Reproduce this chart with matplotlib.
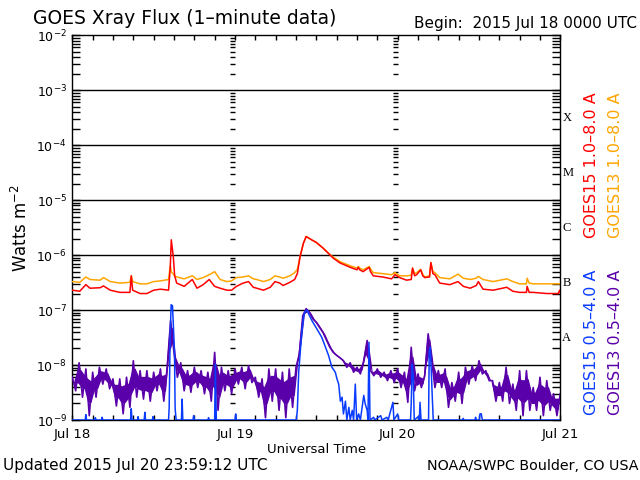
import numpy as np
import matplotlib
matplotlib.use('Agg')
import matplotlib.pyplot as plt
from matplotlib.ticker import FixedLocator, NullFormatter, LogFormatterSciNotation, FixedFormatter
import matplotlib.transforms as mtransforms

# hours from 2015 Jul 18 00:00 UTC
long_hours = [0.0, 1.1, 2.0, 2.6, 4.1, 4.6, 5.6, 7.0, 8.5, 8.7,
              8.9, 10.0, 11.0, 12.0, 13.0, 14.2, 14.45, 14.6, 14.9, 15.1,
              15.4, 16.5, 17.7, 18.4, 19.3, 20.2, 21.0, 21.8, 22.8, 23.5,
              24.2, 25.2, 26.0, 26.7, 27.2, 28.2, 29.2, 29.9, 30.6, 31.1,
              32.1, 32.8, 33.2, 33.6, 34.1, 34.5, 35.3, 36.0, 37.0, 38.0,
              38.5, 39.5, 41.0, 42.0, 42.2, 42.4, 42.9, 43.8, 44.0, 44.4,
              45.8, 47.1, 47.6, 48.3, 49.3, 50.0, 50.2, 50.5, 50.8, 51.4,
              51.7, 52.0, 52.7, 52.9, 53.2, 53.5, 54.2, 55.7, 56.9, 57.7,
              58.7, 59.6, 59.9, 60.6, 62.1, 64.1, 65.0, 66.0, 67.0, 67.1,
              67.4, 68.0, 70.0, 71.7, 71.9, 72.0]

goes15_long = [2.3e-7, 2.2e-7, 2.9e-7, 2.5e-7, 2.55e-7, 2.75e-7, 2.3e-7, 2.1e-7, 2.1e-7, 4.2e-7,
               2.3e-7, 2.0e-7, 2.0e-7, 2.3e-7, 2.4e-7, 2.3e-7, 6.0e-7, 1.9e-6, 9.4e-7, 4.2e-7,
               3.1e-7, 2.7e-7, 3.6e-7, 2.5e-7, 2.9e-7, 3.6e-7, 2.7e-7, 2.5e-7, 2.3e-7, 2.3e-7,
               2.7e-7, 3.1e-7, 3.3e-7, 2.6e-7, 2.5e-7, 2.3e-7, 2.6e-7, 3.3e-7, 3.1e-7, 2.8e-7,
               3.2e-7, 3.6e-7, 4.6e-7, 9.4e-7, 1.65e-6, 2.18e-6, 1.9e-6, 1.7e-6, 1.34e-6, 1.01e-6,
               8.8e-7, 7.2e-7, 6.0e-7, 5.4e-7, 6.0e-7, 5.4e-7, 5.0e-7, 6.0e-7, 5.0e-7, 4.2e-7,
               4.0e-7, 3.7e-7, 4.4e-7, 3.9e-7, 3.5e-7, 3.6e-7, 5.8e-7, 4.2e-7, 4.4e-7, 5.4e-7,
               4.2e-7, 3.9e-7, 4.0e-7, 7.3e-7, 4.6e-7, 4.4e-7, 3.1e-7, 2.9e-7, 3.3e-7, 2.7e-7,
               2.5e-7, 2.8e-7, 3.3e-7, 2.4e-7, 2.3e-7, 2.6e-7, 2.2e-7, 2.1e-7, 2.1e-7, 2.7e-7,
               2.1e-7, 2.1e-7, 2.0e-7, 2.0e-7, 2.3e-7, 2.1e-7]

goes13_long = [3.3e-7, 3.2e-7, 4.0e-7, 3.6e-7, 3.5e-7, 3.9e-7, 3.3e-7, 3.1e-7, 3.2e-7, 4.2e-7,
               3.3e-7, 3.0e-7, 3.0e-7, 3.3e-7, 3.4e-7, 3.6e-7, 6.4e-7, 5.0e-7, 4.5e-7, 4.2e-7,
               4.0e-7, 3.7e-7, 4.2e-7, 3.6e-7, 3.9e-7, 4.4e-7, 5.0e-7, 3.6e-7, 3.3e-7, 3.4e-7,
               3.9e-7, 4.0e-7, 4.2e-7, 3.7e-7, 3.6e-7, 3.3e-7, 3.6e-7, 4.2e-7, 4.0e-7, 3.8e-7,
               4.2e-7, 4.8e-7, 5.5e-7, 9.4e-7, 1.65e-6, 2.18e-6, 1.9e-6, 1.7e-6, 1.34e-6, 1.03e-6,
               9.2e-7, 7.6e-7, 6.4e-7, 5.8e-7, 6.2e-7, 5.8e-7, 5.4e-7, 6.2e-7, 5.6e-7, 4.8e-7,
               4.6e-7, 4.4e-7, 4.8e-7, 4.2e-7, 4.2e-7, 4.3e-7, 5.8e-7, 4.6e-7, 4.8e-7, 5.5e-7,
               4.5e-7, 4.0e-7, 4.2e-7, 7.3e-7, 5.0e-7, 4.8e-7, 3.9e-7, 3.7e-7, 4.5e-7, 3.8e-7,
               3.6e-7, 3.8e-7, 4.1e-7, 3.6e-7, 3.3e-7, 3.7e-7, 3.3e-7, 3.0e-7, 3.0e-7, 3.8e-7,
               3.1e-7, 3.0e-7, 3.0e-7, 3.0e-7, 3.0e-7, 3.0e-7]

# GOES13 0.5-4.0 A, every 30 minutes from 00:00 Jul 18
goes13_short = [6.0e-9, 3.4e-9, 1.1e-8, 2.6e-9, 8.5e-9, 1.2e-9, 7.4e-9, 2.6e-9, 9.1e-9, 4.5e-9,
                8.5e-9, 3.7e-9, 5.6e-9, 1.8e-9, 5.6e-9, 1.3e-9, 6.0e-9, 1.7e-9, 1.2e-8, 2.6e-9,
                7.9e-9, 2.4e-9, 7.9e-9, 2.2e-9, 7.4e-9, 3.4e-9, 8.5e-9, 2.2e-9, 9.1e-9, 6.4e-8,
                1.7e-8, 6.0e-9, 1.1e-8, 3.4e-9, 7.9e-9, 3.2e-9, 9.1e-9, 3.9e-9, 7.9e-9, 3.0e-9,
                7.4e-9, 2.2e-9, 1.7e-8, 1.5e-9, 9.1e-9, 3.4e-9, 7.9e-9, 3.0e-9, 8.5e-9, 4.5e-9,
                9.1e-9, 3.7e-9, 9.7e-9, 4.8e-9, 6.0e-9, 2.6e-9, 5.6e-9, 1.1e-9, 8.5e-9, 2.2e-9,
                8.5e-9, 1.5e-9, 7.4e-9, 1.1e-9, 8.5e-9, 1.7e-9, 9.1e-9, 1.6e-8, 7.9e-8, 1.06e-7,
                9.1e-8, 6.9e-8, 6.0e-8, 4.8e-8, 3.9e-8, 2.85e-8, 2.1e-8, 1.7e-8, 1.5e-8, 1.35e-8,
                1.2e-8, 9.1e-9, 1.1e-8, 7.4e-9, 9.1e-9, 6.9e-9, 1.2e-8, 2.8e-8, 7.9e-9, 6.4e-9,
                8.5e-9, 6.0e-9, 7.4e-9, 5.2e-9, 7.9e-9, 4.8e-9, 8.5e-9, 3.9e-9, 7.4e-9, 2.1e-9,
                2.1e-8, 3.4e-9, 6.9e-9, 3.9e-9, 6.4e-9, 3.7e-8, 1.3e-8, 3.9e-9, 7.9e-9, 3.9e-9,
                8.5e-9, 1.7e-9, 4.8e-9, 2.2e-9, 7.4e-9, 2.0e-9, 9.1e-9, 4.5e-9, 9.7e-9, 5.2e-9,
                1.2e-8, 6.9e-9, 7.9e-9, 5.2e-9, 5.2e-9, 2.2e-9, 4.8e-9, 2.2e-9, 9.1e-9, 2.0e-9,
                4.5e-9, 1.5e-9, 7.9e-9, 1.2e-9, 7.9e-9, 1.5e-9, 3.9e-9, 1.5e-9, 6.0e-9, 1.2e-9,
                5.2e-9, 1.5e-9, 3.0e-9, 1.2e-9, 3.0e-9]
short13_hours = np.arange(len(goes13_short)) * 0.5

# GOES15 0.5-4.0 A, sits at the 1e-9 floor between events
short15_hours = [0.0, 1.9, 2.0, 2.1, 3.3, 3.4, 3.5, 4.3, 4.4, 4.5,
                 8.6, 8.7, 8.8, 9.6, 9.7, 9.8, 10.6, 10.7, 10.8, 11.8,
                 11.9, 12.0, 14.2, 14.29, 14.43, 14.58, 14.78, 14.93, 15.07, 15.17,
                 15.32, 16.1, 16.2, 16.3, 17.8, 17.9, 18.0, 20.0, 20.1, 20.2,
                 21.0, 21.1, 21.25, 24.0, 24.1, 24.2, 33.05, 33.2, 33.4, 33.64,
                 33.89, 34.13, 34.38, 34.62, 34.87, 35.36, 36.1, 36.8, 37.3, 37.8,
                 38.3, 38.8, 39.05, 39.3, 39.55, 39.8, 40.0, 40.3, 40.5, 40.8,
                 41.0, 41.3, 41.5, 41.75, 41.95, 42.25, 42.5, 43.0, 43.2, 43.5,
                 43.62, 43.77, 43.92, 44.46, 44.6, 45.5, 45.7, 46.4, 46.6, 47.3,
                 47.45, 48.0, 48.15, 49.9, 50.0, 50.15, 50.3, 50.45, 51.04, 51.2,
                 51.3, 51.45, 52.56, 52.66, 52.8, 52.96, 53.1, 53.25, 57.6, 57.68,
                 57.76, 59.4, 59.5, 59.6, 60.05, 60.14, 60.33, 60.5, 72.0]
goes15_short = [1e-9, 1e-9, 1.25e-9, 1e-9, 1e-9, 1.1e-9, 1e-9, 1e-9, 1.12e-9, 1e-9,
                1e-9, 1.6e-9, 1e-9, 1e-9, 1.15e-9, 1e-9, 1e-9, 1.38e-9, 1e-9, 1e-9,
                1.15e-9, 1e-9, 1e-9, 1.7e-9, 3.2e-8, 1.25e-7, 1.2e-7, 4.5e-8, 1.8e-8, 1.6e-9,
                1e-9, 1e-9, 2.4e-9, 1e-9, 1e-9, 1.2e-9, 1e-9, 1e-9, 1.1e-9, 1e-9,
                1e-9, 1.04e-8, 1e-9, 1e-9, 1.29e-9, 1e-9, 1e-9, 1.5e-9, 7.4e-9, 1.8e-8,
                4.2e-8, 7.9e-8, 9.5e-8, 1.0e-7, 8.5e-8, 6.4e-8, 4.5e-8, 3.2e-8, 2.2e-8, 1.5e-8,
                9.1e-9, 7.4e-9, 5.6e-9, 4.5e-9, 2.2e-9, 2.6e-9, 1.29e-9, 2.2e-9, 1e-9, 1.7e-9,
                1e-9, 1.5e-9, 1e-9, 4.5e-9, 1e-9, 1.29e-9, 1e-9, 2.8e-9, 2.0e-9, 1.5e-9,
                1e-9, 2.6e-8, 1e-9, 1.12e-9, 1e-9, 1.2e-9, 1e-9, 1.12e-9, 1e-9, 2.1e-9,
                1e-9, 1.29e-9, 1e-9, 1e-9, 2.0e-9, 1.04e-8, 6.0e-9, 1e-9, 1.15e-9, 1e-9,
                2.1e-9, 1e-9, 1e-9, 1.8e-8, 2.1e-8, 7.9e-9, 2.8e-9, 1e-9, 1e-9, 1.07e-9,
                1e-9, 1e-9, 1.12e-9, 1e-9, 1e-9, 1.29e-9, 1.3e-9, 1e-9, 1e-9]

day_labels = ['Jul 18', 'Jul 19', 'Jul 20', 'Jul 21']
flare_classes = ['A', 'B', 'C', 'M', 'X']

c_red = '#ff0000'
c_orange = '#ffa500'
c_blue = '#0a3cff'
c_purple = '#5a00aa'

fig = plt.figure(figsize=(6.4, 4.8), dpi=100)
ax = fig.add_axes([0.113, 0.125, 0.7625, 0.8015])
ax.set_yscale('log')
ax.set_xlim(0, 72)
ax.set_ylim(1e-9, 1e-2)

decade_pos = [10.0 ** k for k in range(-9, -1)]
minor_pos = [m * 10.0 ** k for k in range(-9, -2) for m in range(2, 10)]

for d in decade_pos[1:-1]:
    ax.axhline(d, color='black', lw=1.0, zorder=1)

# minor tick columns at the day boundaries
for day in [24, 48]:
    ax.hlines(minor_pos, day - 0.75, day, color='black', lw=1.0, zorder=1)

ax.plot(long_hours, goes13_long, color=c_orange, lw=1.1, zorder=3)
ax.plot(long_hours, goes15_long, color=c_red, lw=1.1, zorder=4)

# dense noise band of the GOES13 short channel: core between neighbouring samples
s13 = np.log10(goes13_short)
pair_lo = np.minimum(s13[:-1], s13[1:])
pair_hi = np.maximum(s13[:-1], s13[1:])
band_lo = 10 ** (pair_lo + 0.3 * (pair_hi - pair_lo))
band_hi = 10 ** (pair_lo + 0.8 * (pair_hi - pair_lo))
mid_t = (short13_hours[:-1] + short13_hours[1:]) / 2
ax.fill_between(mid_t, band_lo, band_hi, color=c_purple, lw=0, zorder=5)
ax.plot(short13_hours, goes13_short, color=c_purple, lw=1.2, zorder=5)
ax.plot(short15_hours, goes15_short, color=c_blue, lw=1.1, zorder=6)

ax.xaxis.set_major_locator(FixedLocator([0, 24, 48, 72]))
ax.xaxis.set_major_formatter(FixedFormatter(day_labels))
ax.xaxis.set_minor_locator(FixedLocator(np.arange(0, 73, 3)))
ax.tick_params(axis='x', which='both', direction='in', top=True, bottom=True,
               length=3.5, width=1, labelsize=9.5, pad=6)
ax.yaxis.set_major_locator(FixedLocator(decade_pos))
ax.yaxis.set_major_formatter(LogFormatterSciNotation())
ax.yaxis.set_minor_locator(FixedLocator(minor_pos))
ax.yaxis.set_minor_formatter(NullFormatter())
ax.tick_params(axis='y', which='both', direction='in', left=True, right=True,
               length=6, width=1, labelsize=9, pad=4)
for s in ax.spines.values():
    s.set_linewidth(1.0)

# flare class letters on the right
trans = mtransforms.blended_transform_factory(ax.transAxes, ax.transData)
for i, letter in enumerate(flare_classes):
    ax.text(1.004, 10.0 ** (-7.5 + i), letter, transform=trans, ha='left', va='center',
            fontsize=9, family='Liberation Serif')

ax.set_ylabel('Watts m$^{-2}$', fontsize=12, labelpad=4)
ax.set_xlabel('Universal Time', fontsize=9.5, labelpad=1)

fig.text(0.052, 0.962, 'GOES Xray Flux (1–minute data)', fontsize=13.5, ha='left', va='center')
fig.text(0.995, 0.951, 'Begin:  2015 Jul 18 0000 UTC', fontsize=11, ha='right', va='center')
fig.text(0.004, 0.03, 'Updated 2015 Jul 20 23:59:12 UTC', fontsize=11, ha='left', va='center')
fig.text(0.997, 0.03, 'NOAA/SWPC Boulder, CO USA', fontsize=10.3, ha='right', va='center')

fig.text(591 / 640, 1 - 238 / 480, 'GOES15 1.0–8.0 A', color=c_red, rotation=90,
         fontsize=11.5, ha='center', va='bottom')
fig.text(616 / 640, 1 - 238 / 480, 'GOES13 1.0–8.0 A', color=c_orange, rotation=90,
         fontsize=11.5, ha='center', va='bottom')
fig.text(591 / 640, 1 - 415 / 480, 'GOES15 0.5–4.0 A', color=c_blue, rotation=90,
         fontsize=11.5, ha='center', va='bottom')
fig.text(616 / 640, 1 - 415 / 480, 'GOES13 0.5–4.0 A', color=c_purple, rotation=90,
         fontsize=11.5, ha='center', va='bottom')

fig.savefig('out.png', dpi=100)
